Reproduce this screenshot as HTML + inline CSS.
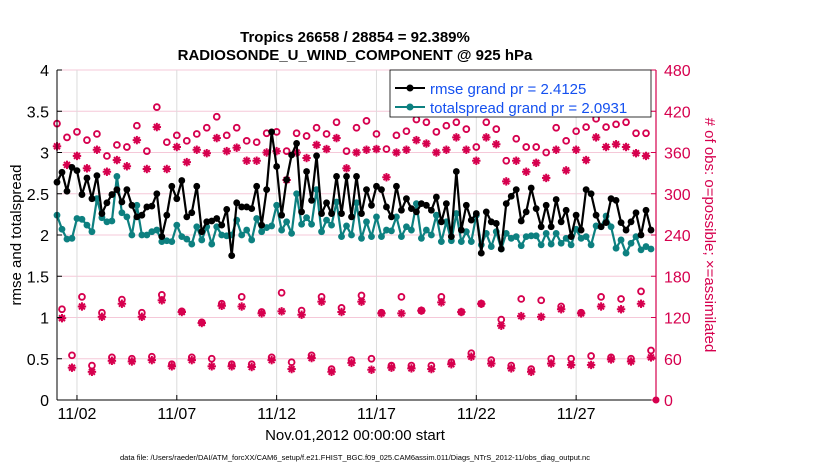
<!DOCTYPE html>
<html><head><meta charset="utf-8"><style>
body{margin:0;background:#fff;}
svg text{font-family:"Liberation Sans",sans-serif;}
</style></head><body>
<svg id="chart" width="830" height="470" xmlns="http://www.w3.org/2000/svg">
<text x="355" y="42" font-size="15" font-weight="bold" text-anchor="middle">Tropics 26658 / 28854 = 92.389%</text>
<text x="355" y="60" font-size="15" font-weight="bold" text-anchor="middle">RADIOSONDE_U_WIND_COMPONENT @ 925 hPa</text>
<g id="grid"></g>
<g id="marks"></g>
<g id="axes"></g>
<text transform="translate(21,235) rotate(-90)" font-size="15" text-anchor="middle">rmse and totalspread</text>
<text transform="translate(705,235) rotate(90)" font-size="15" fill="#d6004e" text-anchor="middle"># of obs: o=possible; ×=assimilated</text>
<text x="355" y="440" font-size="15" text-anchor="middle">Nov.01,2012 00:00:00 start</text>
<text x="355" y="460" font-size="7.5" text-anchor="middle">data file: /Users/raeder/DAI/ATM_forcXX/CAM6_setup/f.e21.FHIST_BGC.f09_025.CAM6assim.011/Diags_NTrS_2012-11/obs_diag_output.nc</text>
<g>
<rect x="390" y="70" width="261" height="47" fill="#fff" stroke="#000" stroke-width="0.8"/>
<line x1="395" y1="88" x2="425" y2="88" stroke="#000" stroke-width="2"/><circle cx="410" cy="88" r="3.5" fill="#000"/>
<text x="430" y="94" font-size="15" fill="#1450f0">rmse grand pr = 2.4125</text>
<line x1="395" y1="107" x2="425" y2="107" stroke="#0d8080" stroke-width="2"/><circle cx="410" cy="107" r="3.5" fill="#0d8080"/>
<text x="430" y="113" font-size="15" fill="#1450f0">totalspread grand pr = 2.0931</text>
</g>
</svg>
<script>
const rmse=[2.64,2.76,2.53,2.82,2.78,2.49,2.69,2.44,2.72,2.26,2.39,2.49,2.55,2.40,2.55,2.36,2.22,2.24,2.34,2.35,2.50,1.98,2.24,2.59,2.44,2.66,2.22,2.27,2.59,2.04,2.16,2.17,2.20,2.12,2.31,1.75,2.39,2.34,2.34,2.32,2.59,
2.12,2.55,3.25,2.83,2.24,2.67,2.97,3.11,2.28,2.77,2.42,2.96,2.26,2.39,2.26,2.71,2.26,2.71,2.22,2.71,2.26,2.55,2.36,2.59,2.55,2.34,2.22,2.59,2.30,2.44,2.32,2.28,2.38,2.36,2.30,2.46,2.16,2.38,1.98,2.77,
2.06,2.36,2.18,2.26,1.78,2.28,2.16,2.14,1.83,2.38,2.47,2.55,2.17,2.28,2.57,2.32,2.10,2.36,2.10,2.43,2.16,2.30,1.98,2.24,2.06,2.55,2.50,2.24,2.10,2.15,2.44,2.42,2.15,2.06,2.16,2.27,2.00,2.30,2.06];
const spread=[2.24,2.07,1.95,1.96,2.20,2.19,2.12,2.04,2.44,2.21,2.16,2.17,2.71,2.27,2.22,2.00,2.36,2.00,2.00,2.04,2.06,1.92,1.93,1.92,2.12,1.98,1.95,1.89,2.10,1.94,2.10,1.89,2.10,2.00,1.99,2.00,2.18,2.00,2.06,1.94,2.20,
2.04,2.09,2.11,2.36,2.06,2.16,2.02,2.50,2.13,2.21,2.13,2.55,2.04,2.18,2.12,2.40,1.98,2.11,2.00,2.39,1.96,2.16,1.98,2.22,1.98,2.06,2.05,2.22,1.98,2.10,2.06,2.38,1.96,2.06,2.00,2.24,1.92,2.16,1.93,2.26,
1.92,2.04,1.92,2.24,1.88,2.02,1.86,2.04,1.83,2.02,1.96,1.98,1.87,1.98,1.99,1.99,1.88,2.02,1.89,2.02,1.90,1.96,1.88,2.07,1.96,1.98,1.88,2.11,2.10,2.23,2.10,1.84,1.94,1.78,1.90,1.98,1.82,1.86,1.83];
const synPossible=[402,382,390,378,387,355,371,368,399,362,426,375,385,377,387,396,412,385,396,377,375,
388,390,362,388,384,396,387,404,362,396,406,387,365,385,391,408,404,390,399,404,
394,368,404,394,348,380,368,368,360,396,377,391,397,409,397,401,404,388,388];
const synAssim=[369,342,355,337,364,332,349,340,378,336,397,336,368,346,364,359,381,362,367,348,348,
360,362,320,360,352,371,365,381,337,360,364,365,324,360,364,378,373,360,364,382,
364,348,382,372,318,348,332,345,323,364,334,364,349,382,368,372,368,359,355];
const z06Possible=[132,150,127,146,127,153,129,113,140,150,128,156,130,150,134,152,127,150,130,150,128,140,117,147,145,136,127,150,147,158];
const z06Assim=[119,136,121,140,121,145,128,112,137,136,126,129,124,143,128,143,126,126,130,142,128,140,108,122,121,132,126,136,132,140];
const z18Possible=[65,50,62,60,63,52,62,60,52,52,62,55,65,45,58,60,50,50,50,55,68,58,50,45,60,60,64,62,60,72];
const z18Assim=[47,41,57,56,58,49,58,49,49,48,58,45,61,41,54,44,47,46,45,52,63,53,46,41,53,51,51,59,56,62];
const xTickDays=[1,6,11,16,21,26];
const xTickLabels=["11/02","11/07","11/12","11/17","11/22","11/27"];
const yTicks=[0,0.5,1,1.5,2,2.5,3,3.5,4];
const y2Ticks=[0,60,120,180,240,300,360,420,480];

const NS="http://www.w3.org/2000/svg";
const X0=57,X1=656,Y0=400,Y1=70;
const xS=d=>X0+(d/30)*(X1-X0);
const yS=v=>Y0-(v/4)*(Y0-Y1);
const y2S=v=>Y0-(v/480)*(Y0-Y1);
const MAG="#d6004e";
function mk(tag,attrs,parent){const e=document.createElementNS(NS,tag);for(const k in attrs)e.setAttribute(k,attrs[k]);parent.appendChild(e);return e;}
const grid=document.getElementById('grid'),marks=document.getElementById('marks'),axes=document.getElementById('axes');
y2Ticks.forEach(t=>{if(t===0)return;const l=mk('line',{x1:X0,x2:X1,y1:y2S(t),y2:y2S(t),stroke:'#f5c8d8','stroke-width':1},grid);

});
xTickDays.forEach(d=>{const l=mk('line',{x1:xS(d),x2:xS(d),y1:Y1,y2:Y0,stroke:'#dcdcdc','stroke-width':1},grid);

});

function obsAt(i,which){const k=Math.floor(i/4),r=i%4;
 if(r===0||r===2){return which?synPossible[i/2]:synAssim[i/2];}
 if(r===1)return which?z06Possible[k]:z06Assim[k];
 return which?z18Possible[k]:z18Assim[k];}
for(let i=0;i<120;i++){const d=i*0.25;const cx=xS(d);
 const p=obsAt(i,1),a=obsAt(i,0);
 const c=mk('circle',{cx:cx,cy:y2S(p),r:2.9,fill:'none',stroke:MAG,'stroke-width':1.9},marks);
 
 
 const g=mk('g',{stroke:MAG,'stroke-width':2},marks);
 
 
 const cy=y2S(a),s=4.2;
 mk('line',{x1:cx-s,x2:cx+s,y1:cy,y2:cy},g);mk('line',{x1:cx,x2:cx,y1:cy-s,y2:cy+s},g);
 mk('line',{x1:cx-s*0.7,x2:cx+s*0.7,y1:cy-s*0.7,y2:cy+s*0.7},g);mk('line',{x1:cx-s*0.7,x2:cx+s*0.7,y1:cy+s*0.7,y2:cy-s*0.7},g);
}
const zc=mk('circle',{cx:xS(30),cy:y2S(0),r:3.5,fill:MAG},marks);



function series(vals,color,name){
 const pts=vals.map((v,i)=>xS(i*0.25)+','+yS(v)).join(' ');
 const pl=mk('polyline',{points:pts,fill:'none',stroke:color,'stroke-width':2.2,'stroke-linejoin':'round'},marks);
 
 
 vals.forEach((v,i)=>{const c=mk('circle',{cx:xS(i*0.25),cy:yS(v),r:3.4,fill:color},marks);
 
 });
}
series(spread,'#0d8080','totalspread');
series(rmse,'#000','rmse');

mk('line',{x1:X0,x2:X0,y1:Y1,y2:Y0,stroke:'#000','stroke-width':1},axes);
mk('line',{x1:X0,x2:X1,y1:Y0,y2:Y0,stroke:'#000','stroke-width':1},axes);
mk('line',{x1:X1,x2:X1,y1:Y1,y2:Y0,stroke:MAG,'stroke-width':1.2},axes);
yTicks.forEach(t=>{mk('line',{x1:X0,x2:X0+5,y1:yS(t),y2:yS(t),stroke:'#000'},axes);
 const tx=mk('text',{x:X0-8,y:yS(t)+6,'font-size':16,'text-anchor':'end'},axes);tx.textContent=String(t);
 
 });
y2Ticks.forEach(t=>{mk('line',{x1:X1-5,x2:X1,y1:y2S(t),y2:y2S(t),stroke:MAG},axes);
 const tx=mk('text',{x:X1+8,y:y2S(t)+6,'font-size':16,fill:MAG},axes);tx.textContent=String(t);
 
 });
xTickDays.forEach((d,i)=>{mk('line',{x1:xS(d),x2:xS(d),y1:Y0,y2:Y0-5,stroke:'#000'},axes);
 const tx=mk('text',{x:xS(d),y:Y0+19,'font-size':16,'text-anchor':'middle'},axes);tx.textContent=xTickLabels[i];
 
 });
</script>
</body></html>
